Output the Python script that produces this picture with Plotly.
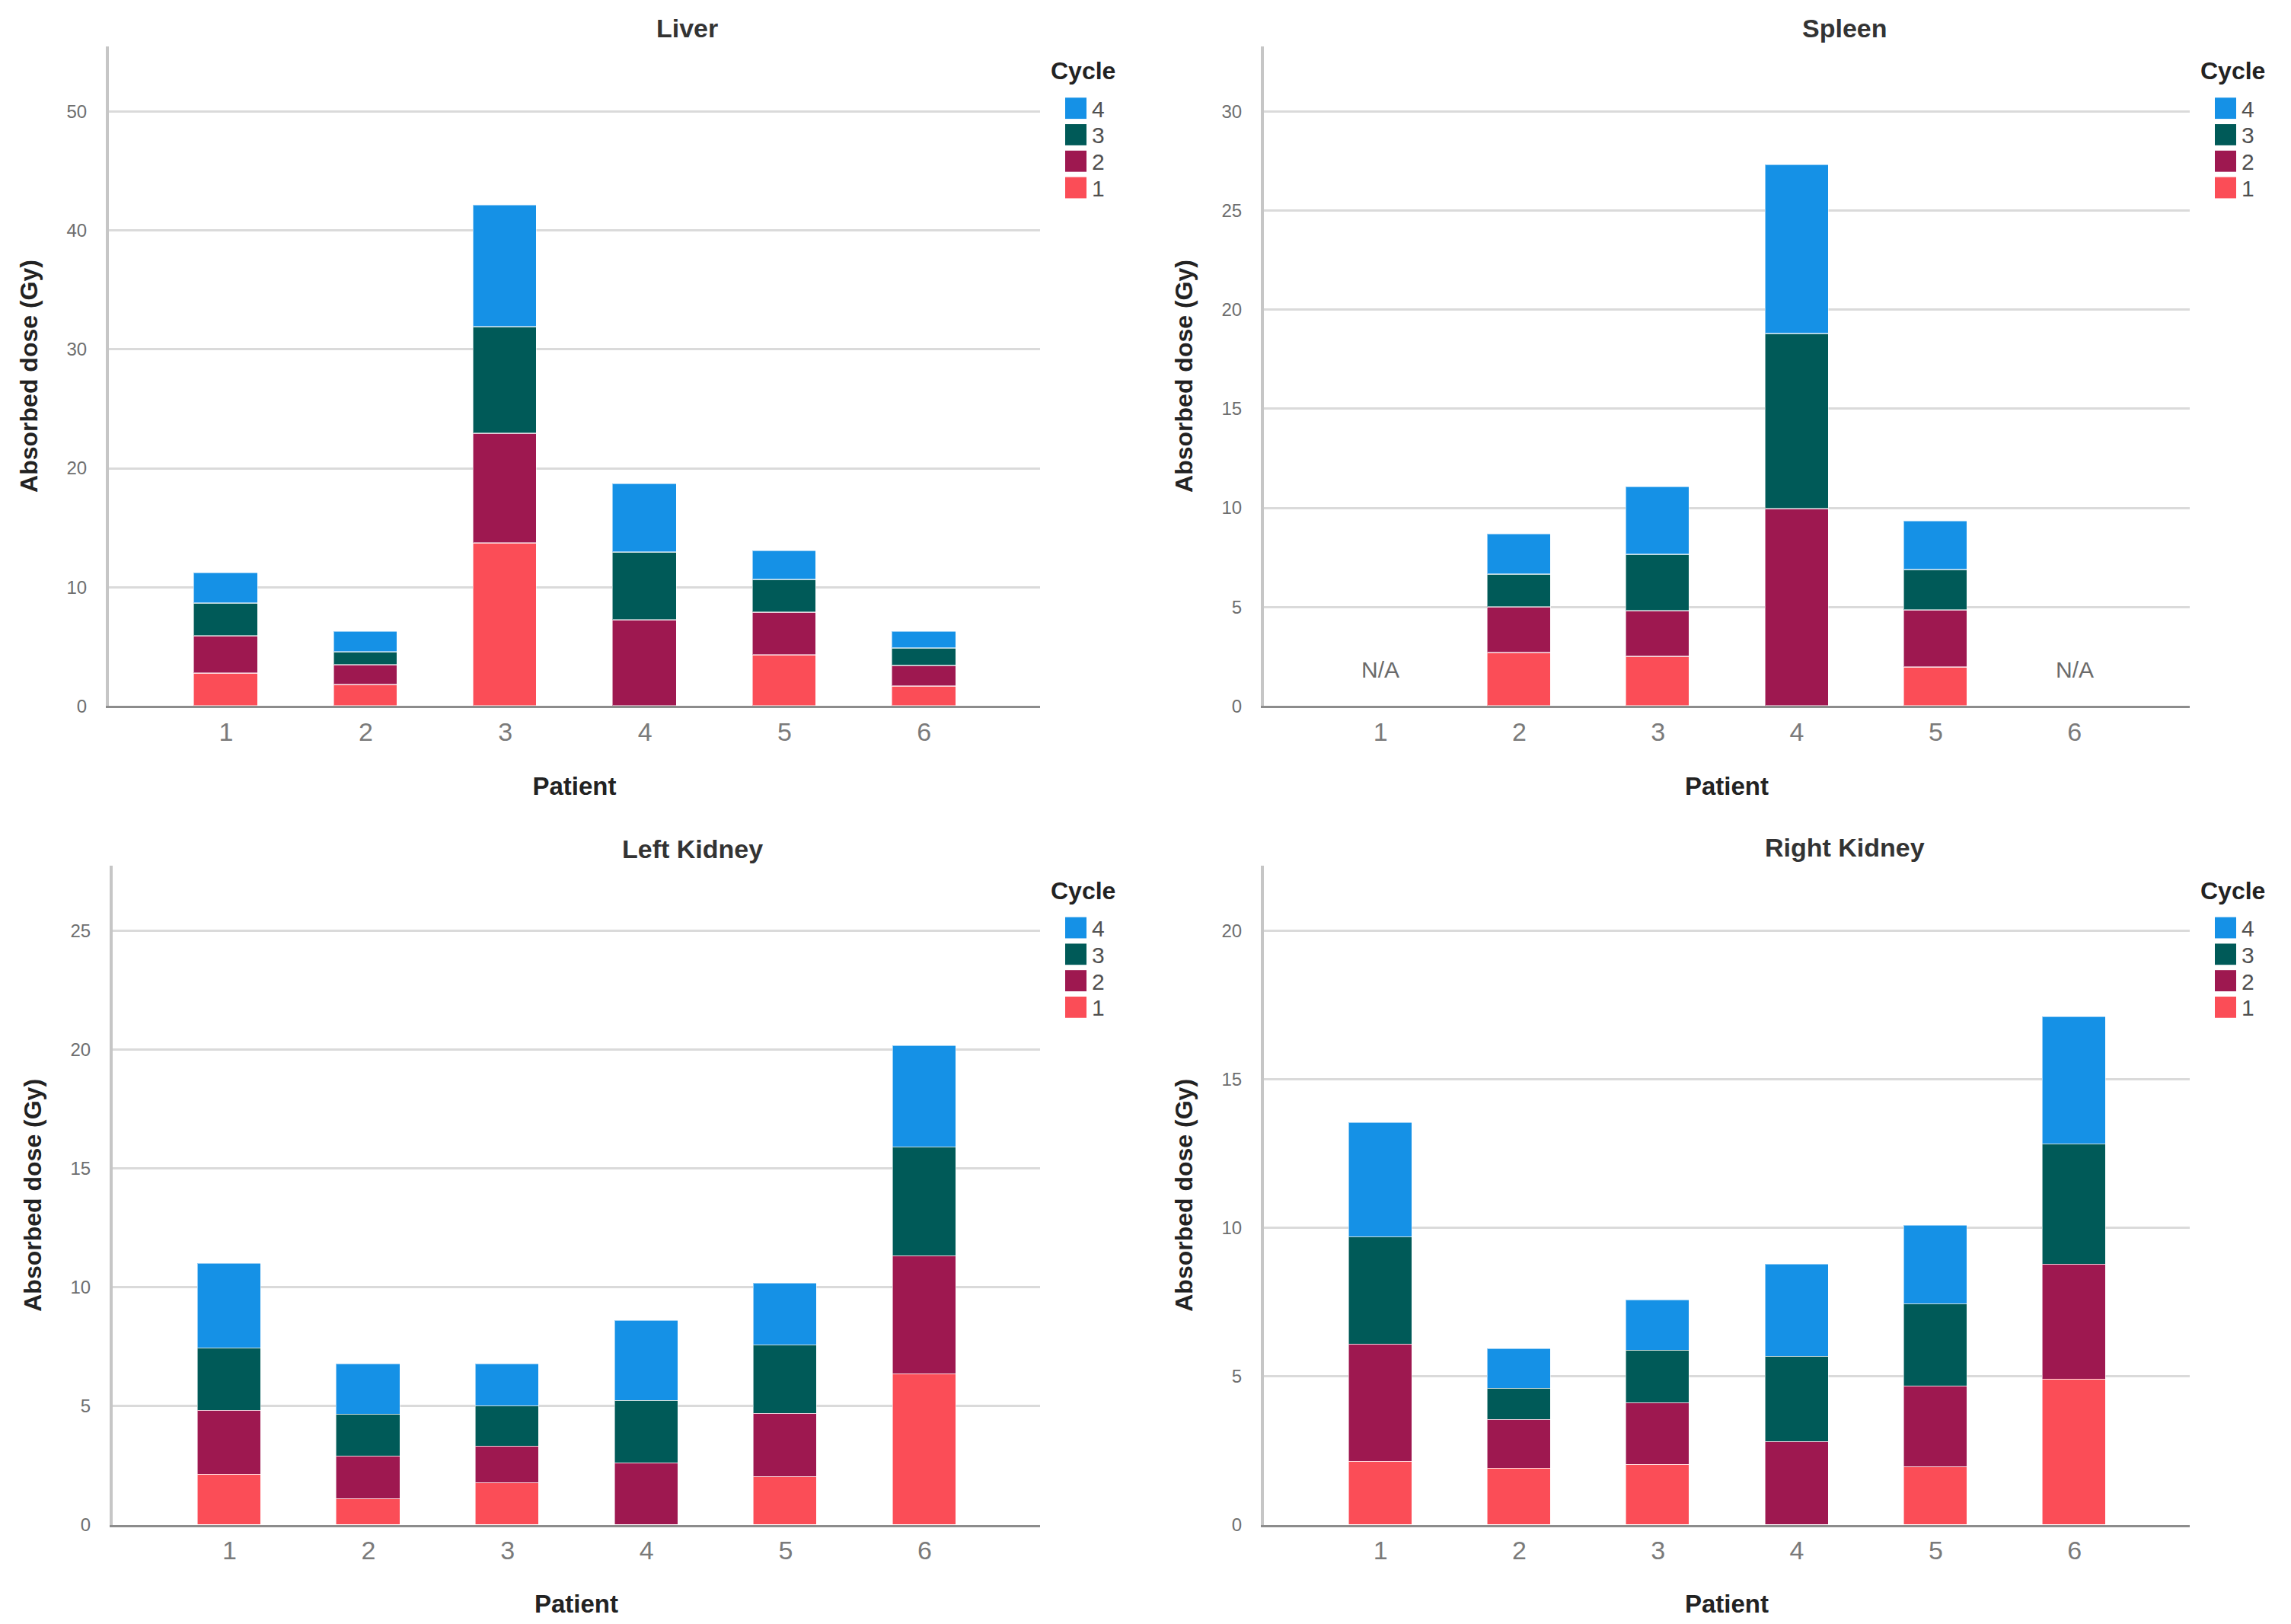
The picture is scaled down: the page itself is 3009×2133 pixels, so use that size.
import plotly.graph_objects as go

W, H = 3009, 2133
OFF = 8  # default page body margin of the written html
FW, FH = W - 2 * OFF, H - 2 * OFF  # figure fits the window inside the body margins

# ---------------- data ----------------
patients = [1, 2, 3, 4, 5, 6]
cycle_names = ["1", "2", "3", "4"]
cycle_colors = ["#FB4D57", "#9E1850", "#005A58", "#1591E6"]
axis_label_y = "Absorbed dose (Gy)"
axis_label_x = "Patient"
organs = ["Liver", "Spleen", "Left Kidney", "Right Kidney"]

liver_c1 = [2.7, 1.76, 13.7, 0.0, 4.24, 1.67]
liver_c2 = [3.2, 1.67, 9.2, 7.24, 3.64, 1.67]
liver_c3 = [2.7, 1.07, 9.0, 5.66, 2.74, 1.50]
liver_c4 = [2.6, 1.76, 10.2, 5.8, 2.4, 1.42]

spleen_c1 = [None, 2.68, 2.47, 0.0, 1.96, None]
spleen_c2 = [None, 2.32, 2.32, 9.94, 2.86, None]
spleen_c3 = [None, 1.62, 2.86, 8.83, 2.06, None]
spleen_c4 = [None, 2.06, 3.40, 8.53, 2.44, None]
spleen_missing = [1, 6]

lkidney_c1 = [2.09, 1.08, 1.75, 0.0, 2.00, 6.35]
lkidney_c2 = [2.70, 1.81, 1.53, 2.57, 2.68, 4.96]
lkidney_c3 = [2.64, 1.75, 1.72, 2.63, 2.88, 4.58]
lkidney_c4 = [3.56, 2.12, 1.76, 3.39, 2.59, 4.27]

rkidney_c1 = [2.12, 1.88, 2.02, 0.0, 1.95, 4.88]
rkidney_c2 = [3.94, 1.65, 2.08, 2.79, 2.70, 3.87]
rkidney_c3 = [3.62, 1.04, 1.77, 2.86, 2.77, 4.07]
rkidney_c4 = [3.86, 1.34, 1.69, 3.10, 2.64, 4.27]

liver_ticks = [0, 10, 20, 30, 40, 50]
spleen_ticks = [0, 5, 10, 15, 20, 25, 30]
lkidney_ticks = [0, 5, 10, 15, 20, 25]
rkidney_ticks = [0, 5, 10, 15, 20]

# ---------------- layout helpers ----------------
def px(x):
    return (x - OFF) / FW


def py(y):
    return 1 - (y - OFF) / FH


FONT = "Liberation Sans, Arial, sans-serif"

panels = [
    dict(name=organs[0], series=[liver_c1, liver_c2, liver_c3, liver_c4], ticks=liver_ticks,
         ymax=55.5, box=(143, 1366, 61, 933), title_xy=(903, 37), missing=[]),
    dict(name=organs[1], series=[spleen_c1, spleen_c2, spleen_c3, spleen_c4], ticks=spleen_ticks,
         ymax=33.3, box=(1660, 2876, 61, 933), title_xy=(2422, 37), missing=spleen_missing),
    dict(name=organs[2], series=[lkidney_c1, lkidney_c2, lkidney_c3, lkidney_c4], ticks=lkidney_ticks,
         ymax=27.75, box=(148, 1366, 1144, 2015), title_xy=(909, 1122), missing=[]),
    dict(name=organs[3], series=[rkidney_c1, rkidney_c2, rkidney_c3, rkidney_c4], ticks=rkidney_ticks,
         ymax=22.2, box=(1660, 2876, 1144, 2015), title_xy=(2423, 1120), missing=[]),
]

fig = go.Figure()
shapes = []
annotations = []

for i, p in enumerate(panels):
    k = "" if i == 0 else str(i + 1)
    xa, ya = "x" + k, "y" + k
    L, R, T, B = p["box"]
    for ci, (vals, cname, col) in enumerate(zip(p["series"], cycle_names, cycle_colors)):
        fig.add_trace(go.Bar(
            x=patients, y=vals, name=cname, xaxis=xa, yaxis=ya,
            width=0.455, showlegend=False,
            marker=dict(color=col, line=dict(color="rgba(255,255,255,0.55)", width=1.5)),
        ))
    fig.layout["xaxis" + k] = dict(
        domain=[px(L), px(R)], range=[0.16, 6.83], anchor=ya,
        tickmode="array", tickvals=patients, ticktext=[str(v) for v in patients],
        showgrid=False, zeroline=False, showline=True, linecolor="#8C8C8C", linewidth=3,
        ticks="", ticklabelstandoff=2,
        tickfont=dict(family=FONT, size=34, color="#7A7A7A"),
        title=dict(text=axis_label_x, standoff=42,
                   font=dict(family=FONT, size=33, color="#222222", weight="bold")),
        fixedrange=True,
    )
    fig.layout["yaxis" + k] = dict(
        domain=[py(B), py(T)], range=[0, p["ymax"]], anchor=xa,
        tickmode="array", tickvals=p["ticks"], ticktext=[str(v) for v in p["ticks"]],
        showgrid=True, gridcolor="#DADADA", gridwidth=3, zeroline=False,
        showline=True, linecolor="#C6C6C6", linewidth=4,
        ticks="", ticklabelstandoff=20,
        tickfont=dict(family=FONT, size=24, color="#6E6E6E"),
        title=dict(text=axis_label_y, standoff=29,
                   font=dict(family=FONT, size=32, color="#222222", weight="bold")),
        fixedrange=True,
    )
    # panel title
    annotations.append(dict(
        text=p["name"], xref="paper", yref="paper",
        x=px(p["title_xy"][0]), y=py(p["title_xy"][1]),
        xanchor="center", yanchor="middle", showarrow=False,
        font=dict(family=FONT, size=34, color="#333333", weight="bold"),
    ))
    # N/A labels for missing patients
    for m in p["missing"]:
        annotations.append(dict(
            text="N/A", xref=xa, yref=ya, x=m, y=p["ymax"] * 0.055,
            xanchor="center", yanchor="middle", showarrow=False,
            font=dict(family=FONT, size=30, color="#6A6A6A"),
        ))
    # legend (Cycle)
    annotations.append(dict(
        text="Cycle", xref="paper", yref="paper",
        x=px(R + 12), y=py(T + 33), xanchor="left", yanchor="middle", showarrow=False,
        font=dict(family=FONT, size=32, color="#222222", weight="bold"),
    ))
    offsets = [82, 117, 152, 187]
    for j, ci in enumerate([3, 2, 1, 0]):
        cy = T + offsets[j]
        shapes.append(dict(
            type="rect", xref="paper", yref="paper",
            x0=px(R + 33), x1=px(R + 61), y0=py(cy + 14), y1=py(cy - 14),
            fillcolor=cycle_colors[ci], line=dict(width=0),
        ))
        annotations.append(dict(
            text=cycle_names[ci], xref="paper", yref="paper",
            x=px(R + 66), y=py(cy + 1), xanchor="left", yanchor="middle", showarrow=False,
            font=dict(family=FONT, size=30, color="#505050"),
        ))

fig.update_layout(
    width=FW, height=FH, barmode="stack", bargap=0,
    paper_bgcolor="white", plot_bgcolor="white",
    margin=dict(l=0, r=0, t=0, b=0),
    showlegend=False,
    shapes=shapes, annotations=annotations,
    font=dict(family=FONT),
)

fig.write_html("out.html")
